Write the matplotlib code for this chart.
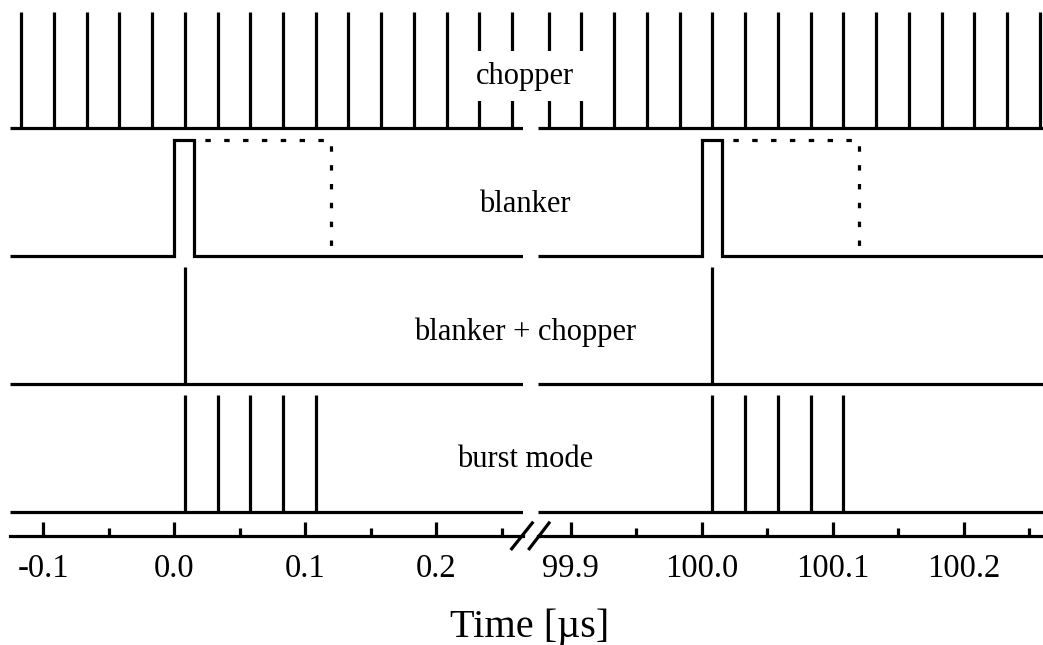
import matplotlib
matplotlib.use("Agg")
import matplotlib.pyplot as plt
from matplotlib import transforms
from matplotlib.lines import Line2D

plt.rcParams['font.family'] = ['Liberation Serif', 'DejaVu Serif']

# ---- timing data (µs) ----
# chopper pulse times, before the break and after it
chopper_left = [-0.117, -0.092, -0.067, -0.042, -0.017, 0.008, 0.033, 0.058,
                0.083, 0.108, 0.133, 0.158, 0.183, 0.208, 0.233, 0.258]
chopper_right = [99.883, 99.908, 99.933, 99.958, 99.983, 100.008, 100.033,
                 100.058, 100.083, 100.108, 100.133, 100.158, 100.183,
                 100.208, 100.233, 100.258]
# blanker gate: opening edge, closing edge, extended (dotted) closing edge
blanker_left = [0.000, 0.015, 0.120]
blanker_right = [100.000, 100.015, 100.120]
# single chopper pulse passed by the blanker
combined_left = [0.008]
combined_right = [100.008]
# burst of chopper pulses
burst_left = [0.008, 0.033, 0.058, 0.083, 0.108]
burst_right = [100.008, 100.033, 100.058, 100.083, 100.108]

row_names = ["chopper", "blanker", "blanker + chopper", "burst mode"]
row_base = [3, 2, 1, 0]
pulse_h = 0.914

xlim_left = (-0.1252, 0.2660)
xlim_right = (99.8747, 100.2604)
major_left = [-0.1, 0.0, 0.1, 0.2]
minor_left = [-0.05, 0.05, 0.15, 0.25]
labels_left = ["-0.1", "0.0", "0.1", "0.2"]
major_right = [99.9, 100.0, 100.1, 100.2]
minor_right = [99.95, 100.05, 100.15, 100.25]
labels_right = ["99.9", "100.0", "100.1", "100.2"]

W, H = 1043, 645
LW = 2.3
fig = plt.figure(figsize=(W / 100, H / 100), dpi=100)
axL = fig.add_axes([10.3 / W, 1 - 535.5 / H, 512.4 / W, 535.5 / H])
axR = fig.add_axes([537.7 / W, 1 - 535.5 / H, (W - 537.7) / W, 535.5 / H])

panels = [
    (axL, xlim_left, chopper_left, blanker_left, combined_left, burst_left,
     major_left, minor_left, labels_left),
    (axR, xlim_right, chopper_right, blanker_right, combined_right, burst_right,
     major_right, minor_right, labels_right),
]

for ax, xl, chop, blank, comb, burst, maj, mnr, lab in panels:
    ax.set_xlim(*xl)
    ax.set_ylim(-0.18, 4.004)
    for b in row_base:
        if b != 2:
            ax.axhline(b, color='black', lw=LW, solid_capstyle='butt')
    # chopper
    ax.vlines(chop, row_base[0], row_base[0] + pulse_h, color='black', lw=LW)
    # blanker gate
    b = row_base[1]
    t0, t1, t2 = blank
    ax.plot([xl[0], t0, t0, t1, t1, xl[1]],
            [b, b, b + pulse_h, b + pulse_h, b, b],
            color='black', lw=LW, solid_joinstyle='miter', solid_capstyle='butt')
    ax.plot([t1, t2, t2], [b + pulse_h, b + pulse_h, b],
            color='black', lw=LW, linestyle=(2.5, (1.7, 4.2)),
            dash_capstyle='butt')
    # blanker + chopper
    ax.vlines(comb, row_base[2], row_base[2] + pulse_h, color='black', lw=LW)
    # burst mode
    ax.vlines(burst, row_base[3], row_base[3] + pulse_h, color='black', lw=LW)

    for s in ('left', 'right', 'top'):
        ax.spines[s].set_visible(False)
    ax.spines['bottom'].set_linewidth(LW)
    ax.set_yticks([])
    ax.set_xticks(maj)
    ax.set_xticks(mnr, minor=True)
    ax.set_xticklabels(lab)
    ax.tick_params(axis='x', which='major', direction='in', length=10,
                   width=LW, pad=13, labelsize=23.5)
    ax.tick_params(axis='x', which='minor', direction='in', length=6, width=LW)
    ax.patch.set_visible(False)

# row labels, centred across the break
trans = transforms.blended_transform_factory(fig.transFigure, axL.transData)
for name, b in zip(row_names, row_base):
    kw = {}
    if name == "chopper":
        kw['bbox'] = dict(boxstyle='square,pad=0.35', facecolor='white',
                          edgecolor='none')
    fig.text(525 / W, b + 0.41, name, transform=trans, ha='center',
             va='center', fontsize=22, zorder=5, **kw)

# axis break marks
for (x0, y0, x1, y1) in [(510.7, 550, 533.3, 521.7), (528.3, 550, 550, 521.7)]:
    fig.add_artist(Line2D([x0 / W, x1 / W], [1 - y0 / H, 1 - y1 / H],
                          transform=fig.transFigure, color='black', lw=LW,
                          solid_capstyle='butt'))

fig.text(530 / W, 1 - 637 / H, "Time [µs]", ha='center', va='baseline',
         fontsize=29)

fig.savefig("out.png", dpi=100)
